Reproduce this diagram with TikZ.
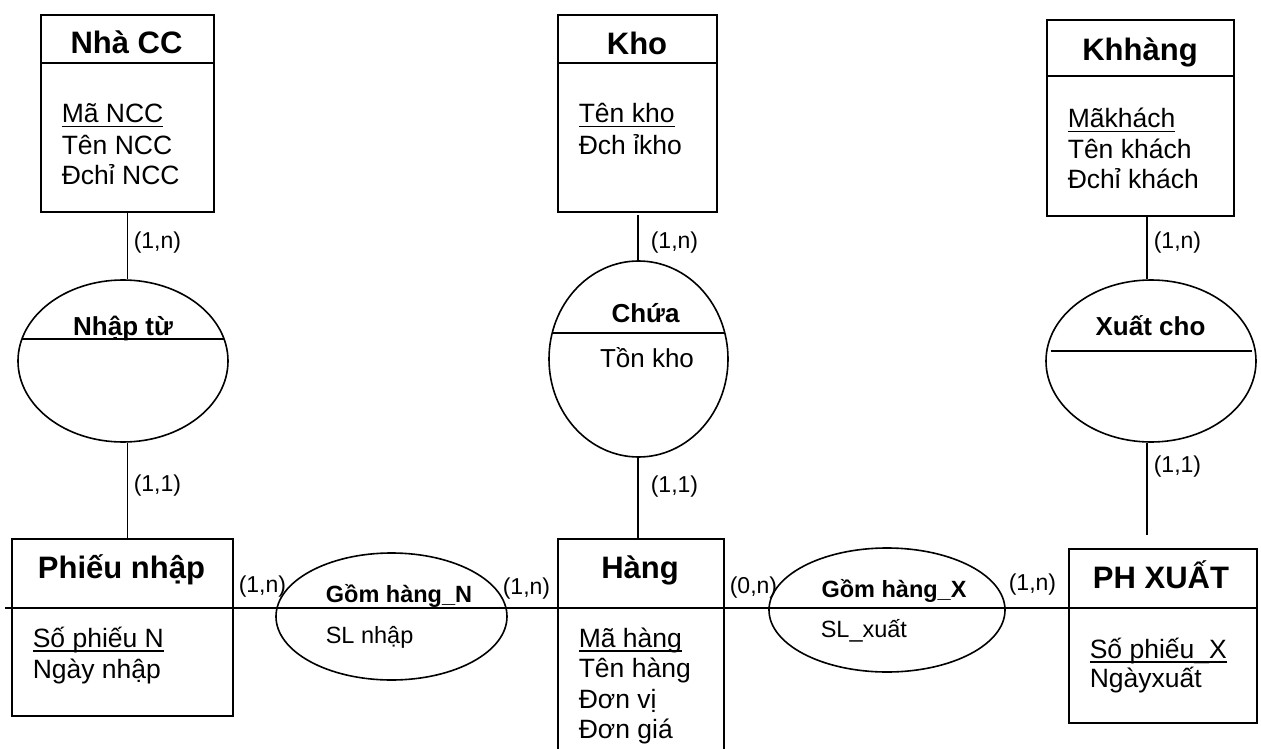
\documentclass[tikz,border=0pt]{standalone}
\usepackage{fontspec}
\setmainfont{Liberation Sans}
\usetikzlibrary{shapes.geometric}
\newcommand\keyul[1]{\setbox0=\hbox{#1}\rlap{\rule[-4.5pt]{\wd0}{1.8pt}}\box0}
\begin{document}
\begin{tikzpicture}[x=1pt,y=-1pt, line width=1.6pt,
  ebox/.style={draw, rectangle, inner sep=0pt, anchor=north west},
  rel/.style={draw, ellipse, inner sep=0pt},
  etitle/.style={inner sep=0pt, anchor=base, font=\fontsize{31}{36}\selectfont\bfseries},
  attr/.style={inner sep=0pt, anchor=base west, font=\fontsize{26.5}{30}\selectfont},
  rname/.style={inner sep=0pt, anchor=base, font=\fontsize{26}{30}\selectfont\bfseries},
  rattr/.style={inner sep=0pt, anchor=base, font=\fontsize{26}{30}\selectfont},
  gname/.style={inner sep=0pt, anchor=base, font=\fontsize{23.5}{28}\selectfont\bfseries},
  gattr/.style={inner sep=0pt, anchor=base west, font=\fontsize{23.5}{28}\selectfont},
  card/.style={inner sep=0pt, anchor=base west, font=\fontsize{23}{27}\selectfont},
]
\useasboundingbox (0,0) rectangle (1261,749);
\fill[white] (0,0) rectangle (1261,749);

% entity boxes
\node[ebox, minimum width=173pt, minimum height=197pt] (ncc) at (40,14) {};
\node[ebox, minimum width=159pt, minimum height=197pt] (kho) at (557,14) {};
\node[ebox, minimum width=187pt, minimum height=196pt] (kh) at (1046,19) {};
\node[ebox, minimum width=221pt, minimum height=177pt] (pn) at (11,538) {};
\node[ebox, minimum width=166pt, minimum height=240pt] (hg) at (557,538) {};
\node[ebox, minimum width=188pt, minimum height=174pt] (phx) at (1068,548) {};

% dividers
\draw (ncc.west |- 0,63) -- (ncc.east |- 0,63);
\draw (kho.west |- 0,63) -- (kho.east |- 0,63);
\draw (kh.west |- 0,76) -- (kh.east |- 0,76);

% relationship ellipses
\node[rel, minimum width=210pt, minimum height=162pt] (nt) at (123,361) {};
\node[rel, minimum width=179pt, minimum height=196pt] (ch) at (638.5,359) {};
\node[rel, minimum width=210pt, minimum height=162pt] (xc) at (1151,361) {};
\node[rel, minimum width=231pt, minimum height=127pt] (gn) at (391.5,616.5) {};
\node[rel, minimum width=236pt, minimum height=124pt] (gx) at (887,610) {};

% chords
\draw ([xshift=-101pt,yshift=22pt]nt.center) -- ([xshift=101pt,yshift=22pt]nt.center);
\draw ([xshift=-86.5pt,yshift=26pt]ch.center) -- ([xshift=86.5pt,yshift=26pt]ch.center);
\draw ([xshift=-100.5pt,yshift=10pt]xc.center) -- ([xshift=100.5pt,yshift=10pt]xc.center);

% long horizontal line
\coordinate (ls) at (5,608);
\draw (ls) -- (phx.east |- ls);

% vertical connectors
\draw (ncc.south) -- (ncc.south |- nt.north);
\draw (ncc.south |- nt.south) -- (ncc.south |- pn.north);
\coordinate (khoS) at (638,215);
\draw (khoS) -- (khoS |- ch.north);
\draw (khoS |- ch.south) -- (khoS |- hg.north);
\coordinate (khS) at (1147,215);
\coordinate (xcE) at (1147,535);
\draw (khS) -- (khS |- xc.north);
\draw (khS |- xc.south) -- (xcE);

% texts: Nha CC
\node[etitle] (tncc) at (126.5,54) {Nhà CC};
\node[attr] (a1) at (61,123) {\keyul{Mã NCC}};
\node[attr] (a2) at (61,154) {Tên NCC};
\node[attr] (a3) at (61,184) {Đchỉ NCC};
% Kho
\node[etitle] (tkho) at (637,55) {Kho};
\node[attr] (k1) at (578,123) {\keyul{Tên kho}};
\node[attr] (k2) at (578,154) {Đch ỉkho};
% Khhang
\node[etitle] (tkh) at (1140,61) {Khhàng};
\node[attr] (c1) at (1067,128) {\keyul{Mãkhách}};
\node[attr] (c2) at (1067,158) {Tên khách};
\node[attr] (c3) at (1067,188) {Đchỉ khách};

% cardinalities
\node[card] (n1) at (133,248) {(1,n)};
\node[card] (n2) at (650,248) {(1,n)};
\node[card] (n3) at (1153,248) {(1,n)};
\node[card] (n4) at (133,491) {(1,1)};
\node[card] (n5) at (650,492) {(1,1)};
\node[card] (n6) at (1153,472) {(1,1)};
\node[card] (n7) at (238,592) {(1,n)};
\node[card] (n8) at (502,594) {(1,n)};
\node[card] (n9) at (729,593) {(0,n)};
\node[card] (n10) at (1008,590) {(1,n)};

% relationship texts
\node[rname] (rnt) at (123,335) {Nhập từ};
\node[rname] (rch) at (645.5,322) {Chứa};
\node[rattr] (rtk) at (647,367) {Tồn kho};
\node[rname] (rxc) at (1150.5,335) {Xuất cho};
\node[gname] (rgn) at (399,602) {Gồm hàng\_N};
\node[gattr] (rsn) at (325,643) {SL nhập};
\node[gname] (rgx) at (894,597) {Gồm hàng\_X};
\node[gattr] (rsx) at (820,637) {SL\_xuất};

% Phieu nhap
\node[etitle] (tpn) at (121.5,578) {Phiếu nhập};
\node[attr] (p1) at (32,647) {\keyul{Số phiếu N}};
\node[attr] (p2) at (32,678) {Ngày nhập};
% Hang
\node[etitle] (thg) at (640,578) {Hàng};
\node[attr] (h1) at (578,647) {\keyul{Mã hàng}};
\node[attr] (h2) at (578,677) {Tên hàng};
\node[attr] (h3) at (578,708) {Đơn vị};
\node[attr] (h4) at (578,738) {Đơn giá};
% PH XUAT
\node[etitle] (tphx) at (1161,588) {PH XUẤT};
\node[attr] (x1) at (1089,658) {\keyul{Số phiếu\_X}};
\node[attr] (x2) at (1089,687) {Ngàyxuất};
\end{tikzpicture}
\end{document}
